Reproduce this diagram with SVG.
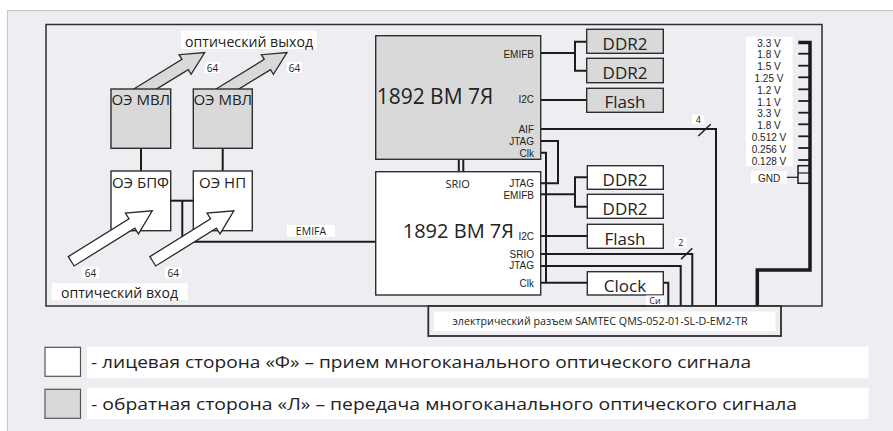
<svg xmlns="http://www.w3.org/2000/svg" width="893" height="431" viewBox="0 0 893 431">
<style>
text{font-family:"Open Sans","Noto Sans","DejaVu Sans",sans-serif;fill:#222}
.ln{stroke:#1c1c1c;stroke-width:2;fill:none}
.thk{stroke:#1a1a1a;stroke-width:3.5;fill:none}
.bx{stroke:#2e2e2e;stroke-width:1.4}
.g{fill:#d9d9d9}
.w{fill:#ffffff}
.arr{stroke:#2a2a2a;stroke-width:1.3}
.pin{font-family:"Liberation Sans",Arial,sans-serif;font-size:10px;text-anchor:end}
.sm{font-size:10px;text-anchor:middle}
.big{font-size:17px;text-anchor:middle}
.v{font-family:"Liberation Sans",Arial,sans-serif;font-size:10px;text-anchor:middle}
</style>
<defs>
<path id="inArr" d="M0,-5.5 H71.5 V-12.3 L95.5,0 L71.5,12.3 V5.5 H0 Z"/>
<path id="outArr" d="M0,-6 H57 V-11.5 L80,0 L57,11.5 V6 H0 Z"/>
</defs>
<rect x="0" y="0" width="893" height="431" fill="#fff"/>
<rect x="7.5" y="10.5" width="900" height="430" fill="#eeedf2" stroke="#cbcbcf" stroke-width="1.2"/>
<rect x="46" y="24.5" width="776" height="281.5" fill="none" stroke="#2e2e2e" stroke-width="1.5"/>

<g id="connectors">
<line class="ln" x1="141" y1="148" x2="141" y2="171"/>
<line class="ln" x1="222.7" y1="148" x2="222.7" y2="171"/>
<polyline class="ln" points="170.7,200.7 193.3,200.7"/>
<polyline class="ln" points="182.3,200.7 182.3,241.7 375.7,241.7"/>
<polyline class="ln" points="540.7,53 575,53"/>
<polyline class="ln" points="586.7,41.7 575,41.7 575,70.7 586.7,70.7"/>
<line class="ln" x1="540.7" y1="100" x2="586.7" y2="100"/>
<polyline class="ln" points="540.7,129 716,129 716,306"/>
<polyline class="ln" points="540.7,141 558,141 558,183.3 540.7,183.3"/>
<polyline class="ln" points="540.7,152.7 546,152.7 546,282.7"/>
<line class="ln" x1="458.8" y1="159.3" x2="458.8" y2="171.7"/>
<line class="ln" x1="463.3" y1="159.3" x2="463.3" y2="171.7"/>
<polyline class="ln" points="540.7,194.3 575,194.3"/>
<polyline class="ln" points="587.3,177.3 575,177.3 575,206.7 587.3,206.7"/>
<line class="ln" x1="540.7" y1="236" x2="587.3" y2="236"/>
<polyline class="ln" points="540.7,254 692.3,254 692.3,306"/>
<polyline class="ln" points="540.7,266 680.7,266 680.7,306"/>
<line class="ln" x1="540.7" y1="282.7" x2="587.3" y2="282.7"/>
<polyline class="ln" points="663.3,282.7 668.3,282.7 668.3,306"/>
<line x1="698.3" y1="136" x2="710.7" y2="124.3" stroke="#1c1c1c" stroke-width="1.5"/>
<line x1="681" y1="259.3" x2="692.3" y2="248.3" stroke="#1c1c1c" stroke-width="1.5"/>
<polyline class="thk" points="798.3,42.5 810,42.5 810,270 757.3,270 757.3,306"/>
<g stroke="#1c1c1c" stroke-width="1.8">
<line x1="798.3" y1="53.7" x2="810" y2="53.7"/>
<line x1="798.3" y1="65.7" x2="810" y2="65.7"/>
<line x1="798.3" y1="77.3" x2="810" y2="77.3"/>
<line x1="798.3" y1="89.3" x2="810" y2="89.3"/>
<line x1="798.3" y1="101" x2="810" y2="101"/>
<line x1="798.3" y1="112.7" x2="810" y2="112.7"/>
<line x1="798.3" y1="124.3" x2="810" y2="124.3"/>
<line x1="798.3" y1="136.3" x2="810" y2="136.3"/>
<line x1="798.3" y1="148" x2="810" y2="148"/>
<line x1="798.3" y1="160" x2="810" y2="160"/>
</g>
<rect x="798" y="165.7" width="12" height="17.6" fill="none" stroke="#1c1c1c" stroke-width="1.5"/>
<line x1="798" y1="173" x2="810" y2="173" stroke="#1c1c1c" stroke-width="1.2"/>
<line x1="786.7" y1="177.3" x2="798" y2="177.3" stroke="#1c1c1c" stroke-width="1.2"/>
</g>

<use href="#outArr" class="g arr" transform="translate(136.5,94.3) rotate(-31.5)"/>
<use href="#outArr" class="g arr" transform="translate(218.8,94.3) rotate(-31.5)"/>

<g id="mvl1"><rect class="g bx" x="111" y="89" width="59.7" height="59.3"/><text x="140.8" y="105" font-size="15" text-anchor="middle">ОЭ МВЛ</text></g>
<g id="mvl2"><rect class="g bx" x="193.3" y="89" width="59" height="59.3"/><text x="222.8" y="105" font-size="15" text-anchor="middle">ОЭ МВЛ</text></g>
<g id="bpf"><rect class="w bx" x="111" y="171" width="59.7" height="59.7"/><text x="140.5" y="187.7" font-size="15" text-anchor="middle">ОЭ БПФ</text></g>
<g id="np"><rect class="w bx" x="193.3" y="171" width="59" height="59.7"/><text x="222.6" y="187.7" font-size="15" text-anchor="middle">ОЭ НП</text></g>

<use href="#inArr" class="w arr" transform="translate(71.2,261.3) rotate(-31.9)"/>
<use href="#inArr" class="w arr" transform="translate(152.8,261.3) rotate(-31.9)"/>

<g id="labels-optic">
<rect x="181" y="31" width="136" height="18" fill="#fff"/>
<text x="249" y="46.5" font-size="15" text-anchor="middle" textLength="128" lengthAdjust="spacingAndGlyphs">оптический выход</text>
<rect x="205" y="62" width="15" height="11" fill="#fff"/><text class="sm" x="212.5" y="71.5">64</text>
<rect x="287" y="62" width="15" height="11" fill="#fff"/><text class="sm" x="294.5" y="71.5">64</text>
<rect x="81.7" y="267.3" width="17.6" height="11" fill="#fff"/><text class="sm" x="90.5" y="276.7">64</text>
<rect x="165" y="267.3" width="16.7" height="11" fill="#fff"/><text class="sm" x="173.3" y="276.7">64</text>
<rect x="51.7" y="283.3" width="136" height="16.7" fill="#fff"/>
<text x="119.5" y="297.5" font-size="15" text-anchor="middle" textLength="117" lengthAdjust="spacingAndGlyphs">оптический вход</text>
<rect x="287" y="225" width="48" height="11.7" fill="#fff"/><text x="311" y="234.8" font-size="10.5" text-anchor="middle">EMIFA</text>
</g>

<g id="chip-upper">
<rect class="g bx" x="375.7" y="35.7" width="165" height="123.6"/>
<text x="376.7" y="104" font-size="21" textLength="116.5" lengthAdjust="spacingAndGlyphs">1892 ВМ 7Я</text>
<text class="pin" x="534" y="57.5">EMIFB</text>
<text class="pin" x="534" y="103" font-size="8">I2C</text>
<text class="pin" x="534" y="132.5">AIF</text>
<text class="pin" x="534" y="145">JTAG</text>
<text class="pin" x="534" y="157">Clk</text>
</g>
<g id="chip-lower">
<rect class="w bx" x="375.7" y="171.7" width="165" height="123.3"/>
<text x="402.7" y="237.7" font-size="20" textLength="111.3" lengthAdjust="spacingAndGlyphs">1892 ВМ 7Я</text>
<text x="457.7" y="188.3" font-size="11" text-anchor="middle">SRIO</text>
<text class="pin" x="534" y="186.7">JTAG</text>
<text class="pin" x="534" y="199.3">EMIFB</text>
<text class="pin" x="534" y="240" font-size="8">I2C</text>
<text class="pin" x="534" y="257.5">SRIO</text>
<text class="pin" x="534" y="269.3">JTAG</text>
<text class="pin" x="534" y="286.5">Clk</text>
</g>

<g id="ddr2-a"><rect class="g bx" x="586.7" y="29.3" width="76.6" height="24"/><text class="big" x="625" y="49.5">DDR2</text></g>
<g id="ddr2-b"><rect class="g bx" x="586.7" y="58.3" width="76.6" height="24.4"/><text class="big" x="625" y="78.8">DDR2</text></g>
<g id="flash-a"><rect class="g bx" x="586.7" y="88.3" width="76.6" height="24"/><text class="big" x="625" y="108">Flash</text></g>
<g id="ddr2-c"><rect class="w bx" x="587.3" y="165.7" width="76" height="23.6"/><text class="big" x="625" y="185.8">DDR2</text></g>
<g id="ddr2-d"><rect class="w bx" x="587.3" y="194.3" width="76" height="24"/><text class="big" x="625" y="214.8">DDR2</text></g>
<g id="flash-b"><rect class="w bx" x="587.3" y="224.3" width="76" height="24"/><text class="big" x="625" y="244.5">Flash</text></g>
<g id="clock"><rect class="w bx" x="587.3" y="271.7" width="76" height="23.3"/><text class="big" x="625" y="291.5">Clock</text></g>

<g id="bus-labels">
<rect x="692.3" y="114.3" width="12" height="10" fill="#fff"/><text x="698.3" y="122.8" font-size="9" text-anchor="middle">4</text>
<rect x="675" y="237.3" width="11.7" height="10.4" fill="#fff"/><text x="680.8" y="246" font-size="9" text-anchor="middle">2</text>
<rect x="646" y="295.5" width="18" height="10.2" fill="#fff"/><text x="655" y="304.2" font-size="9" text-anchor="middle">Си</text>
</g>

<g id="power">
<rect x="746" y="36.7" width="46.7" height="129.3" fill="#fff"/>
<text class="v" x="769" y="46.5">3.3 V</text>
<text class="v" x="769" y="58.3">1.8 V</text>
<text class="v" x="769" y="70.1">1.5 V</text>
<text class="v" x="769" y="81.9">1.25 V</text>
<text class="v" x="769" y="93.7">1.2 V</text>
<text class="v" x="769" y="105.5">1.1 V</text>
<text class="v" x="769" y="117.3">3.3 V</text>
<text class="v" x="769" y="129.1">1.8 V</text>
<text class="v" x="769" y="140.9">0.512 V</text>
<text class="v" x="769" y="152.7">0.256 V</text>
<text class="v" x="769" y="164.5">0.128 V</text>
<rect x="751" y="171" width="35.7" height="12.3" fill="#fff"/>
<text class="v" x="769" y="181.5">GND</text>
</g>

<g id="connector">
<rect x="428.3" y="306" width="352.7" height="30" fill="#eeedf2" stroke="#2e2e2e" stroke-width="1.8"/>
<rect x="434" y="311.5" width="341.5" height="19.5" fill="#fff"/>
<text x="600" y="325" font-size="11" text-anchor="middle" textLength="295" lengthAdjust="spacingAndGlyphs">электрический разъем SAMTEC QMS-052-01-SL-D-EM2-TR</text>
</g>

<g id="legend">
<rect x="45" y="347.3" width="35.5" height="29" fill="#fff" stroke="#555" stroke-width="1.2"/>
<rect x="87" y="346.7" width="781.5" height="31.6" fill="#fff"/>
<text x="91" y="368.3" font-size="17" textLength="660" lengthAdjust="spacingAndGlyphs">- лицевая сторона «Ф» – прием многоканального оптического сигнала</text>
<rect x="45" y="389.3" width="35.5" height="29" fill="#d9d9d9" stroke="#555" stroke-width="1.2"/>
<rect x="87" y="387.7" width="781.5" height="31.3" fill="#fff"/>
<text x="91" y="410" font-size="17" textLength="706" lengthAdjust="spacingAndGlyphs">- обратная сторона «Л» – передача многоканального оптического сигнала</text>
</g>
</svg>
